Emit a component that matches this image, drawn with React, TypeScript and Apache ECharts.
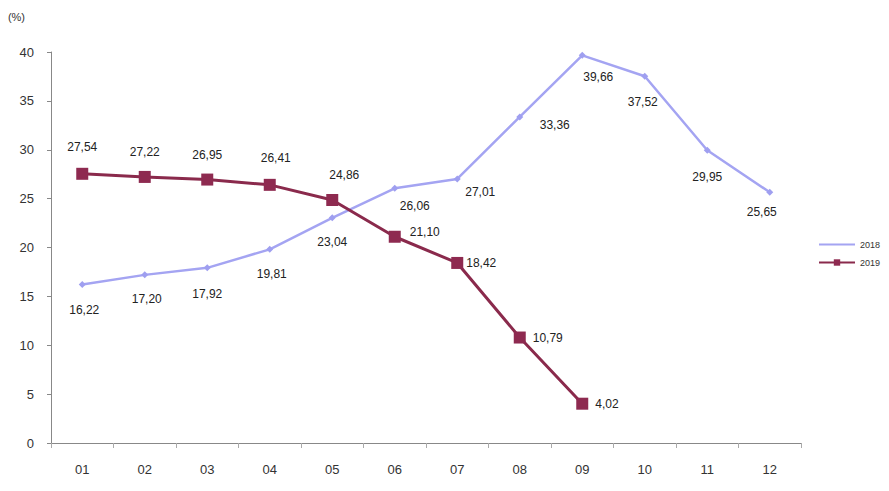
import React, { useEffect, useRef } from "react";
import * as echarts from "echarts";

const months = ["01", "02", "03", "04", "05", "06", "07", "08", "09", "10", "11", "12"];
const values2018 = [16.22, 17.2, 17.92, 19.81, 23.04, 26.06, 27.01, 33.36, 39.66, 37.52, 29.95, 25.65];
const values2019 = [27.54, 27.22, 26.95, 26.41, 24.86, 21.1, 18.42, 10.79, 4.02];
const yTicks = [0, 5, 10, 15, 20, 25, 30, 35, 40];

const FONT = "Liberation Sans, Arial, sans-serif";
const fmt = (v: number) => v.toFixed(2).replace(".", ",");

const pos2018: any[] = [
  { position: "bottom", offset: [2, 11] },
  { position: "bottom", offset: [2, 10] },
  { position: "bottom", offset: [0, 12] },
  { position: "bottom", offset: [2, 10] },
  { position: "bottom", offset: [0, 10] },
  { position: "bottom", offset: [20, 3] },
  { position: "bottom", offset: [23, -1] },
  { position: "bottom", offset: [35, -6] },
  { position: "bottom", offset: [16, 7] },
  { position: "bottom", offset: [-2, 11] },
  { position: "bottom", offset: [0, 12] },
  { position: "bottom", offset: [-8, 5] },
];
const pos2019: any[] = [
  { position: "top", offset: [0, -10] },
  { position: "top", offset: [0, -8] },
  { position: "top", offset: [0, -8] },
  { position: "top", offset: [6, -10] },
  { position: "top", offset: [12, -8] },
  { position: "right", offset: [4, -5] },
  { position: "right", offset: [-2, 0] },
  { position: "right", offset: [2, 0] },
  { position: "right", offset: [2, 0] },
];

export default function App() {
  const ref = useRef<HTMLDivElement>(null);
  useEffect(() => {
    if (!ref.current) return;
    const chart = echarts.init(ref.current, null, { renderer: "svg" });
    chart.setOption({
      animation: false,
      backgroundColor: "#ffffff",
      textStyle: { fontFamily: FONT },
      grid: { left: 51, right: 88, top: 52, bottom: 48, containLabel: false },
      legend: {
        orient: "vertical",
        left: 813,
        top: 235,
        itemWidth: 36,
        itemHeight: 8,
        itemGap: 9,
        textStyle: { fontSize: 9, color: "#333", fontFamily: FONT },
        data: [
          { name: "2018", itemStyle: { opacity: 0 } },
          { name: "2019" },
        ],
      },
      xAxis: {
        type: "category",
        data: months,
        boundaryGap: true,
        axisLine: { lineStyle: { color: "#888", width: 1 } },
        axisTick: { show: true, length: 5, lineStyle: { color: "#aaa" } },
        axisLabel: { color: "#333", fontSize: 13, margin: 20, fontFamily: FONT },
        splitLine: { show: false },
      },
      yAxis: {
        type: "value",
        min: 0,
        max: 40,
        interval: 5,
        name: "(%)",
        nameLocation: "end",
        nameGap: 30,
        nameTextStyle: { color: "#333", fontSize: 11, align: "right", padding: [0, 26, 0, 0], fontFamily: FONT },
        axisLine: { show: true, lineStyle: { color: "#888", width: 1 } },
        axisTick: { show: true, length: 4, lineStyle: { color: "#888" } },
        axisLabel: {
          color: "#333",
          fontSize: 13,
          margin: 17,
          fontFamily: FONT,
          formatter: (v: number) => (yTicks.includes(v) ? String(v) : ""),
        },
        splitLine: { show: false },
      },
      series: [
        {
          name: "2018",
          type: "line",
          data: values2018.map((v, i) => ({
            value: v,
            label: { show: true, ...pos2018[i] },
          })),
          symbol: "diamond",
          symbolSize: 7,
          itemStyle: { color: "#9f9ff0" },
          lineStyle: { color: "#a4a4f2", width: 2.5 },
          label: {
            show: true,
            color: "#222",
            fontSize: 12,
            fontFamily: FONT,
            formatter: (p: any) => fmt(p.value),
          },
          z: 2,
        },
        {
          name: "2019",
          type: "line",
          data: values2019.map((v, i) => ({
            value: v,
            label: { show: true, ...pos2019[i] },
          })),
          symbol: "rect",
          symbolSize: 12,
          itemStyle: { color: "#8e2a50" },
          lineStyle: { color: "#8a2a4c", width: 3 },
          label: {
            show: true,
            color: "#222",
            fontSize: 12,
            fontFamily: FONT,
            formatter: (p: any) => fmt(p.value),
          },
          z: 3,
        },
      ],
    });
    return () => chart.dispose();
  }, []);
  return <div ref={ref} style={{ width: 889, height: 491, position: "absolute", left: 0, top: 0 }} />;
}
